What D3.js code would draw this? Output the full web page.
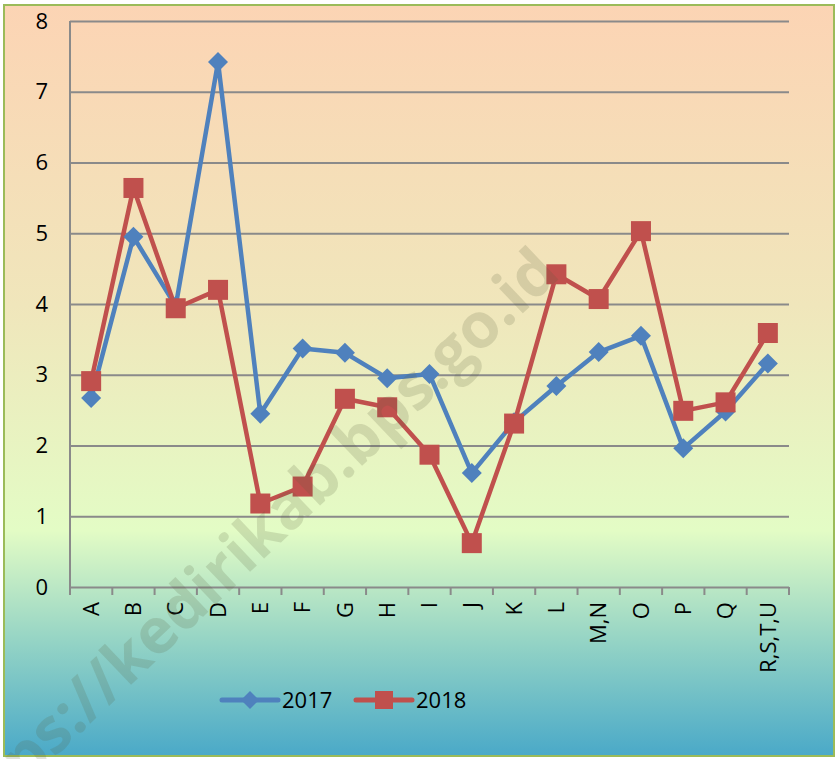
<!DOCTYPE html>
<html>
<head>
<meta charset="utf-8">
<script src="https://cdn.jsdelivr.net/npm/d3@7/dist/d3.min.js"></script>
<style>
body { margin: 0; background: #fff; }
svg text { font-family: "Open Sans", sans-serif; fill: #000; }
.grid line { stroke: #8a8a8a; stroke-width: 2; }
.grid path { stroke-width: 0; }
</style>
</head>
<body>
<div id="chart"></div>
<script>

var categories = ["A","B","C","D","E","F","G","H","I","J","K","L","M,N","O","P","Q","R,S,T,U"];
var values2017 = [2.67,4.95,3.97,7.42,2.45,3.37,3.31,2.95,3.01,1.61,2.33,2.84,3.32,3.55,1.96,2.48,3.16];
var values2018 = [2.91,5.64,3.94,4.20,1.18,1.42,2.66,2.54,1.87,0.62,2.31,4.42,4.07,5.03,2.49,2.61,3.59];
var yTicks = [0,1,2,3,4,5,6,7,8];
var seriesNames = ["2017","2018"];

var width = 836, height = 759;
var margin = ({top: 21, right: 47, bottom: 172, left: 70});

var svg = d3.select("#chart")
  .append("svg")
    .attr("width", width)
    .attr("height", height);

// background gradient
var defs = svg.append("defs");
var grad = defs.append("linearGradient")
    .attr("id", "bg").attr("x1", 0).attr("y1", 0).attr("x2", 0).attr("y2", 1);
grad.append("stop").attr("offset", "0%").attr("stop-color", "#fcd4b4");
grad.append("stop").attr("offset", "40%").attr("stop-color", "#f0e6bb");
grad.append("stop").attr("offset", "70%").attr("stop-color", "#e3fcc5");
grad.append("stop").attr("offset", "85%").attr("stop-color", "#93d3c5");
grad.append("stop").attr("offset", "100%").attr("stop-color", "#4aa9c8");

svg.append("rect")
    .attr("x", 4).attr("y", 5)
    .attr("width", 830).attr("height", 751)
    .attr("fill", "url(#bg)")
    .attr("stroke", "#9bbb59")
    .attr("stroke-width", 2);

var x_scale = d3.scaleBand()
    .domain(categories)
    .range([margin.left, width - margin.right])
    .padding(0);

var y_scale = d3.scaleLinear()
    .domain([0, 8])
    .range([height - margin.bottom, margin.top]);

var cx = function(i) { return x_scale(categories[i]) + x_scale.bandwidth() / 2; };

// y grid + ticks
var yAxis = svg.append("g")
    .attr("class", "grid")
    .attr("transform", `translate(${margin.left},0)`)
    .call(
        d3.axisLeft(y_scale)
            .tickValues(yTicks)
            .tickSize(8)
            .tickSizeOuter(0)
            .tickPadding(14)
    );
yAxis.selectAll(".tick line").attr("x2", width - margin.right - margin.left);
yAxis.selectAll(".tick text")
    .style("font-size", "22px");
yAxis.select(".domain").remove();

// y axis line
svg.append("line")
    .attr("x1", margin.left).attr("x2", margin.left)
    .attr("y1", y_scale(8)).attr("y2", y_scale(0) + 8)
    .attr("stroke", "#8a8a8a").attr("stroke-width", 2);

// x tick marks at band boundaries
var bounds = categories.map(c => x_scale(c)).concat([width - margin.right]);
svg.append("g").selectAll("line")
    .data(bounds).enter().append("line")
    .attr("x1", d => d).attr("x2", d => d)
    .attr("y1", y_scale(0)).attr("y2", y_scale(0) + 8)
    .attr("stroke", "#8a8a8a").attr("stroke-width", 2);

// x labels
svg.append("g").selectAll("text")
    .data(categories).enter().append("text")
    .attr("transform", (d, i) => `translate(${cx(i)},${y_scale(0) + 15}) rotate(-90)`)
    .attr("text-anchor", "end")
    .attr("dy", "0.35em")
    .style("font-size", "22px")
    .text(d => d);

// lines
var line = d3.line()
    .x((d, i) => cx(i))
    .y(d => y_scale(d));

var colors = ["#4f81bd", "#c0504d"];
var allSeries = [values2017, values2018];

allSeries.forEach(function(vals, s) {
    svg.append("path")
        .datum(vals)
        .attr("fill", "none")
        .attr("stroke", colors[s])
        .attr("stroke-width", 4.5)
        .attr("stroke-linejoin", "round")
        .attr("d", line);
});

// markers 2017 diamonds
svg.append("g").selectAll("path")
    .data(values2017).enter().append("path")
    .attr("d", "M0,-10L10,0L0,10L-10,0Z")
    .attr("transform", (d, i) => `translate(${cx(i)},${y_scale(d)})`)
    .attr("fill", colors[0]);

// markers 2018 squares
svg.append("g").selectAll("rect")
    .data(values2018).enter().append("rect")
    .attr("x", (d, i) => cx(i) - 10)
    .attr("y", d => y_scale(d) - 10)
    .attr("width", 20).attr("height", 20)
    .attr("fill", colors[1]);

// legend
var legend = svg.append("g").attr("transform", "translate(222,700)");
seriesNames.forEach(function(name, s) {
    var g = legend.append("g").attr("transform", `translate(${s * 134},0)`);
    g.append("line")
        .attr("x1", 0).attr("x2", 56)
        .attr("stroke", colors[s]).attr("stroke-width", 5)
        .attr("stroke-linecap", "round");
    if (s == 0) {
        g.append("path").attr("d", "M0,-9L9,0L0,9L-9,0Z")
            .attr("transform", "translate(28,0)").attr("fill", colors[s]);
    } else {
        g.append("rect").attr("x", 19).attr("y", -9)
            .attr("width", 18).attr("height", 18).attr("fill", colors[s]);
    }
    g.append("text")
        .attr("x", 60).attr("dy", "0.36em")
        .style("font-size", "22px")
        .text(name);
});

// watermark
svg.append("text")
    .attr("transform", "translate(562,276) rotate(-43.5)")
    .attr("text-anchor", "end")
    .style("font-size", "63px")
    .style("font-weight", "bold")
    .style("fill", "rgba(90,95,60,0.18)")
    .text("https://kedirikab.bps.go.id");

</script>
</body>
</html>
